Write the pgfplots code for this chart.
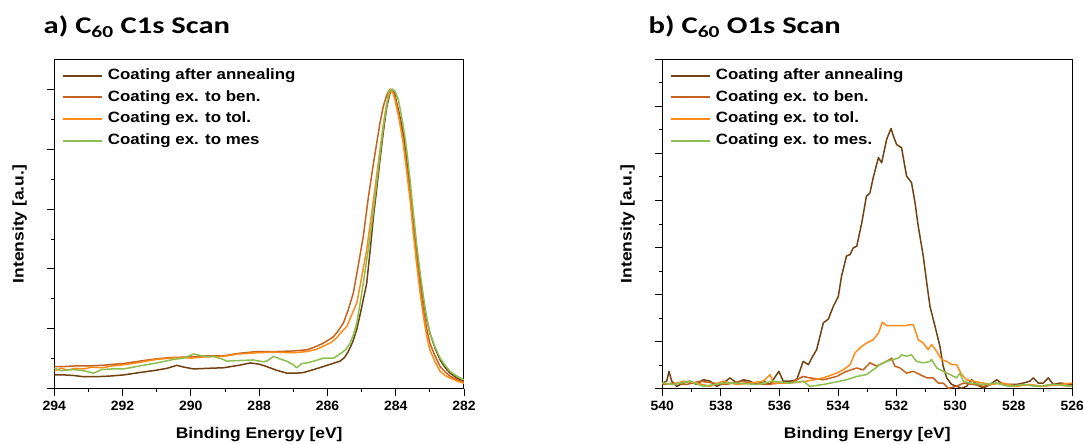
\documentclass[border=0pt]{standalone}
\usepackage{fontspec}
\setmainfont{Liberation Sans}[FakeStretch=1.13]
\newfontfamily\tickfont{Liberation Sans}[FakeStretch=1.04]
\newfontfamily\titlefont{Carlito}[FakeStretch=1.28]
\usepackage{pgfplots}
\pgfplotsset{compat=1.18}
\definecolor{cAnn}{RGB}{112,66,18}
\definecolor{cBen}{RGB}{196,98,30}
\definecolor{cTol}{RGB}{255,140,26}
\definecolor{cMes}{RGB}{140,190,80}
\pgfplotsset{
  xpsstyle/.style={
    scale only axis,
    height=329.4bp,
    anchor=south west,
    x dir=reverse,
    ymin=0,
    tick pos=left,
    tick align=outside,
    major tick length=7bp,
    minor tick length=3.5bp,
    minor tick num=1,
    every tick/.style={black, line width=0.9bp},
    axis line style={line width=1bp},
    yticklabels={},
    /pgf/number format/assume math mode=true,
    tick label style={font=\tickfont\fontsize{13.5}{13.5}\selectfont\bfseries},
    xticklabel style={yshift=-1.5bp},
    every axis x label/.style={at={(axis description cs:0.5,0)}, anchor=base, yshift=-49.5bp, font=\fontsize{15.5}{15.5}\selectfont\bfseries},
    every axis y label/.style={at={(axis description cs:-0.0845,0.5)}, rotate=90, anchor=center, font=\fontsize{15.5}{15.5}\selectfont\bfseries},
    xlabel={Binding Energy [eV]},
    ylabel={Intensity [a.u.]},
    legend cell align=left,
    legend style={at={(0,1)}, anchor=north west, draw=none, fill=none,
      inner xsep=7.4bp, inner ysep=9bp,
      font=\fontsize{15}{15}\selectfont\bfseries,
      nodes={inner sep=0bp, text height=11bp, text depth=3.5bp},
      row sep=7.2bp,
      /tikz/every odd column/.append style={column sep=5bp}},
    legend image code/.code={\draw[#1, line width=2bp] (0bp,0bp) -- (39bp,0bp);},
    every axis plot/.append style={line width=1.5bp, line join=round},
  }
}
\begin{document}
\begin{tikzpicture}
\path[use as bounding box] (0bp,0bp) rectangle (1083bp,444bp);
\node[anchor=base west, inner sep=0pt, font=\titlefont\fontsize{24}{24}\selectfont\bfseries] at (43.5bp,410.5bp) {a) C\textsubscript{60} C1s Scan};
\node[anchor=base west, inner sep=0pt, font=\titlefont\fontsize{24}{24}\selectfont\bfseries] at (648.5bp,410.5bp) {b) C\textsubscript{60} O1s Scan};

\begin{axis}[xpsstyle, at={(54.3bp,55.3bp)}, width=409.7bp,
  xmin=282, xmax=294, ymax=5.5, xtick={282,284,...,294}, ytick={0,1,...,5}]
\addplot[cAnn] coordinates {(294.00,0.23) (293.70,0.23) (293.43,0.22) (293.14,0.20) (292.80,0.20) (292.40,0.21) (291.97,0.23) (291.50,0.27) (291.00,0.31) (290.70,0.34) (290.41,0.39) (290.20,0.36) (289.92,0.33) (289.50,0.34) (289.04,0.35) (288.60,0.39) (288.26,0.43) (288.00,0.41) (287.78,0.37) (287.50,0.31) (287.19,0.26) (286.90,0.26) (286.70,0.27) (286.40,0.32) (286.12,0.37) (285.85,0.42) (285.63,0.46) (285.50,0.52) (285.39,0.62) (285.26,0.78) (285.14,0.99) (285.00,1.35) (284.85,1.76) (284.75,2.30) (284.65,2.88) (284.56,3.32) (284.46,3.82) (284.36,4.30) (284.26,4.71) (284.17,4.93) (284.10,5.00) (284.03,4.92) (283.97,4.77) (283.88,4.55) (283.78,4.27) (283.68,3.82) (283.58,3.32) (283.49,2.82) (283.39,2.32) (283.29,1.88) (283.19,1.49) (283.10,1.18) (283.00,0.93) (282.85,0.68) (282.70,0.48) (282.55,0.35) (282.41,0.26) (282.21,0.18) (282.00,0.12)};
\addlegendentry{Coating after annealing}
\addplot[cBen] coordinates {(294.00,0.37) (293.70,0.37) (293.40,0.38) (293.00,0.38) (292.60,0.39) (292.20,0.41) (291.97,0.42) (291.50,0.46) (291.00,0.50) (290.60,0.52) (290.02,0.53) (289.50,0.55) (289.04,0.55) (288.60,0.59) (288.07,0.62) (287.50,0.62) (287.00,0.63) (286.60,0.65) (286.35,0.70) (286.12,0.76) (285.95,0.82) (285.82,0.87) (285.68,0.97) (285.53,1.10) (285.40,1.30) (285.24,1.60) (285.10,2.05) (284.95,2.54) (284.80,3.20) (284.65,3.77) (284.46,4.44) (284.36,4.72) (284.26,4.91) (284.17,5.00) (284.08,4.96) (284.02,4.88) (283.90,4.55) (283.78,4.16) (283.68,3.72) (283.58,3.27) (283.49,2.74) (283.39,2.21) (283.29,1.75) (283.19,1.32) (283.10,1.02) (283.00,0.76) (282.85,0.55) (282.70,0.37) (282.55,0.28) (282.41,0.21) (282.21,0.15) (282.00,0.11)};
\addlegendentry{Coating ex. to ben.}
\addplot[cTol] coordinates {(294.00,0.30) (293.80,0.34) (293.60,0.31) (293.40,0.34) (293.14,0.33) (292.90,0.36) (292.60,0.35) (292.30,0.38) (291.97,0.40) (291.60,0.43) (291.30,0.46) (291.00,0.49) (290.60,0.51) (290.20,0.52) (290.02,0.51) (289.60,0.53) (289.04,0.54) (288.60,0.58) (288.07,0.60) (287.60,0.61) (287.00,0.60) (286.60,0.62) (286.30,0.66) (286.12,0.71) (285.90,0.77) (285.73,0.85) (285.60,0.94) (285.43,1.04) (285.30,1.22) (285.14,1.43) (285.00,1.85) (284.85,2.32) (284.65,3.16) (284.46,3.99) (284.36,4.42) (284.26,4.77) (284.15,5.00) (284.08,4.94) (284.02,4.82) (283.90,4.50) (283.78,4.10) (283.68,3.63) (283.58,3.16) (283.49,2.62) (283.39,2.10) (283.29,1.62) (283.19,1.21) (283.10,0.90) (283.00,0.65) (282.85,0.45) (282.70,0.29) (282.55,0.22) (282.41,0.18) (282.21,0.13) (282.00,0.09)};
\addlegendentry{Coating ex. to tol.}
\addplot[cMes] coordinates {(294.00,0.34) (293.80,0.30) (293.43,0.32) (293.14,0.30) (292.85,0.26) (292.60,0.32) (292.30,0.33) (291.97,0.33) (291.50,0.38) (291.00,0.43) (290.50,0.49) (290.21,0.51) (289.92,0.58) (289.60,0.54) (289.34,0.54) (289.10,0.50) (288.95,0.46) (288.60,0.47) (288.17,0.48) (287.90,0.45) (287.78,0.46) (287.58,0.54) (287.40,0.50) (287.19,0.46) (287.00,0.40) (286.90,0.35) (286.75,0.42) (286.60,0.43) (286.40,0.46) (286.12,0.51) (285.82,0.51) (285.58,0.60) (285.45,0.66) (285.34,0.76) (285.24,0.90) (285.14,1.10) (285.05,1.40) (284.95,1.76) (284.85,2.15) (284.75,2.54) (284.65,3.00) (284.56,3.43) (284.46,3.92) (284.36,4.38) (284.26,4.75) (284.21,4.96) (284.12,5.00) (284.02,4.97) (283.92,4.82) (283.83,4.55) (283.73,4.21) (283.65,3.85) (283.58,3.49) (283.49,2.98) (283.39,2.43) (283.29,1.96) (283.19,1.54) (283.10,1.21) (283.00,0.93) (282.85,0.70) (282.70,0.51) (282.55,0.39) (282.41,0.29) (282.21,0.21) (282.00,0.15)};
\addlegendentry{Coating ex. to mes}
\end{axis}

\begin{axis}[xpsstyle, at={(662.3bp,55.3bp)}, width=410bp,
  xmin=526, xmax=540, ymax=7, xtick={526,528,...,540}, ytick={0,1,...,7}]
\addplot[cAnn] coordinates {(540.00,0.12) (539.85,0.16) (539.77,0.37) (539.68,0.16) (539.51,0.05) (539.28,0.12) (539.06,0.16) (538.83,0.09) (538.60,0.19) (538.37,0.16) (538.14,0.05) (537.92,0.12) (537.69,0.23) (537.46,0.12) (537.23,0.19) (537.01,0.16) (536.78,0.09) (536.55,0.16) (536.32,0.09) (536.02,0.37) (535.87,0.16) (535.64,0.16) (535.41,0.19) (535.19,0.58) (535.01,0.51) (534.90,0.65) (534.73,0.83) (534.50,1.40) (534.33,1.48) (534.16,1.75) (533.99,1.96) (533.88,2.39) (533.71,2.82) (533.59,2.85) (533.48,2.99) (533.36,3.03) (533.19,3.52) (533.03,4.09) (532.91,4.16) (532.80,4.48) (532.62,4.91) (532.51,4.80) (532.34,5.30) (532.19,5.53) (532.11,5.37) (532.00,5.19) (531.83,5.12) (531.66,4.52) (531.49,4.38) (531.37,3.95) (531.26,3.45) (531.09,2.82) (530.97,2.25) (530.86,1.75) (530.69,1.33) (530.52,0.90) (530.41,0.48) (530.29,0.23) (530.12,0.09) (529.95,0.05) (529.78,0.01) (529.61,0.05) (529.44,0.19) (529.27,0.09) (529.04,0.01) (528.81,0.09) (528.58,0.19) (528.36,0.09) (528.13,0.09) (527.90,0.09) (527.67,0.12) (527.45,0.16) (527.33,0.23) (527.16,0.12) (526.99,0.12) (526.82,0.23) (526.65,0.09) (526.42,0.12) (526.00,0.09)};
\addlegendentry{Coating after annealing}
\addplot[cBen] coordinates {(540.00,0.09) (539.62,0.12) (539.17,0.09) (538.71,0.16) (538.26,0.12) (537.80,0.09) (537.35,0.16) (536.89,0.12) (536.44,0.09) (535.98,0.12) (535.64,0.12) (535.19,0.26) (534.96,0.23) (534.50,0.19) (534.05,0.26) (533.71,0.37) (533.36,0.44) (533.14,0.40) (532.91,0.55) (532.68,0.48) (532.45,0.55) (532.23,0.62) (532.17,0.65) (532.06,0.48) (531.88,0.44) (531.66,0.33) (531.43,0.37) (531.20,0.30) (530.97,0.23) (530.75,0.23) (530.58,0.12) (530.41,0.12) (530.23,0.01) (529.95,0.05) (529.72,0.12) (529.38,0.09) (529.04,0.05) (528.58,0.12) (528.13,0.05) (527.67,0.09) (527.16,0.05) (526.65,0.09) (526.00,0.05)};
\addlegendentry{Coating ex. to ben.}
\addplot[cTol] coordinates {(540.00,0.12) (539.62,0.09) (539.28,0.16) (538.83,0.12) (538.37,0.05) (537.92,0.16) (537.46,0.09) (537.01,0.12) (536.55,0.16) (536.32,0.30) (536.21,0.12) (535.64,0.12) (535.07,0.16) (534.50,0.23) (534.05,0.33) (533.82,0.40) (533.59,0.51) (533.42,0.76) (533.25,0.87) (533.03,0.97) (532.80,1.04) (532.62,1.18) (532.49,1.41) (532.34,1.34) (532.00,1.34) (531.71,1.34) (531.54,1.36) (531.43,1.36) (531.26,1.04) (531.09,0.97) (530.92,0.83) (530.80,0.94) (530.63,0.79) (530.46,0.62) (530.29,0.58) (530.12,0.51) (529.95,0.51) (529.78,0.30) (529.61,0.19) (529.38,0.16) (529.04,0.12) (528.81,0.09) (528.36,0.12) (527.90,0.05) (527.45,0.09) (527.00,0.05) (526.42,0.09) (526.00,0.12)};
\addlegendentry{Coating ex. to tol.}
\addplot[cMes] coordinates {(540.00,0.12) (539.62,0.09) (539.06,0.16) (538.60,0.05) (537.92,0.12) (537.46,0.12) (536.78,0.09) (536.21,0.16) (535.64,0.12) (535.19,0.16) (534.96,0.05) (534.50,0.09) (533.93,0.16) (533.71,0.19) (533.36,0.26) (533.03,0.30) (532.80,0.40) (532.57,0.51) (532.34,0.58) (532.11,0.62) (531.94,0.65) (531.83,0.72) (531.66,0.69) (531.49,0.72) (531.32,0.58) (531.09,0.55) (530.86,0.58) (530.80,0.62) (530.63,0.44) (530.41,0.37) (530.18,0.30) (529.95,0.23) (529.84,0.33) (529.72,0.16) (529.49,0.12) (529.04,0.09) (528.58,0.12) (528.13,0.05) (527.67,0.09) (527.16,0.05) (526.65,0.09) (526.00,0.05)};
\addlegendentry{Coating ex. to mes.}
\end{axis}
\end{tikzpicture}
\end{document}
